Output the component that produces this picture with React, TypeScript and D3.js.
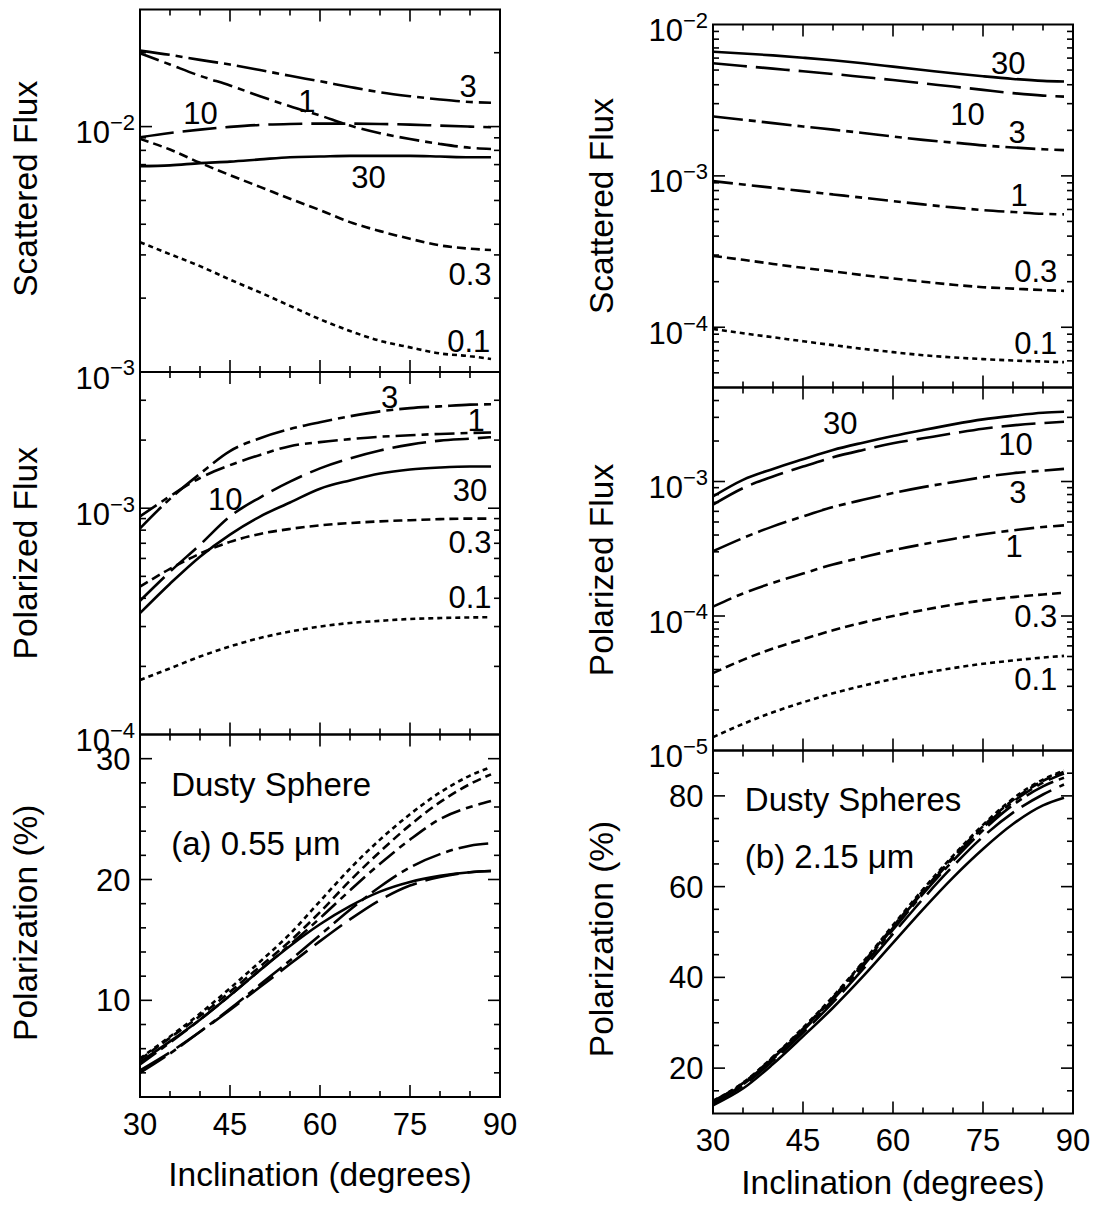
import React from 'react';
import * as d3 from 'd3';

// inclination grid (degrees) shared by every curve
const inclination = [30, 35, 40, 45, 50, 55, 60, 65, 70, 75, 80, 85, 88.5];
// optical depth of each curve, same order as the rows below
const depths = ['0.1', '0.3', '1', '3', '10', '30'];

// (a) 0.55 um
const scatteredA = [
  [3.38e-3, 3.02e-3, 2.70e-3, 2.38e-3, 2.11e-3, 1.86e-3, 1.64e-3, 1.47e-3, 1.34e-3, 1.26e-3, 1.19e-3, 1.16e-3, 1.13e-3],
  [8.91e-3, 8.06e-3, 7.12e-3, 6.34e-3, 5.68e-3, 5.08e-3, 4.57e-3, 4.08e-3, 3.75e-3, 3.49e-3, 3.28e-3, 3.18e-3, 3.14e-3],
  [1.99e-2, 1.79e-2, 1.61e-2, 1.47e-2, 1.33e-2, 1.21e-2, 1.11e-2, 1.01e-2, 9.40e-3, 8.90e-3, 8.50e-3, 8.20e-3, 8.10e-3],
  [2.04e-2, 1.96e-2, 1.87e-2, 1.79e-2, 1.70e-2, 1.61e-2, 1.53e-2, 1.45e-2, 1.38e-2, 1.33e-2, 1.29e-2, 1.26e-2, 1.25e-2],
  [9.05e-3, 9.42e-3, 9.72e-3, 9.97e-3, 1.016e-2, 1.025e-2, 1.028e-2, 1.028e-2, 1.025e-2, 1.019e-2, 1.009e-2, 1.0e-2, 9.94e-3],
  [6.90e-3, 6.95e-3, 7.10e-3, 7.20e-3, 7.35e-3, 7.50e-3, 7.55e-3, 7.60e-3, 7.60e-3, 7.60e-3, 7.55e-3, 7.50e-3, 7.50e-3],
];
const polarizedA = [
  [1.74e-4, 1.96e-4, 2.21e-4, 2.45e-4, 2.67e-4, 2.85e-4, 3.00e-4, 3.11e-4, 3.18e-4, 3.24e-4, 3.27e-4, 3.29e-4, 3.30e-4],
  [4.50e-4, 5.40e-4, 6.30e-4, 7.10e-4, 7.70e-4, 8.10e-4, 8.40e-4, 8.60e-4, 8.75e-4, 8.85e-4, 8.95e-4, 9.00e-4, 9.00e-4],
  [9.20e-4, 1.13e-3, 1.36e-3, 1.55e-3, 1.72e-3, 1.88e-3, 1.96e-3, 2.02e-3, 2.07e-3, 2.10e-3, 2.13e-3, 2.15e-3, 2.16e-3],
  [8.15e-4, 1.10e-3, 1.42e-3, 1.79e-3, 2.04e-3, 2.24e-3, 2.40e-3, 2.55e-3, 2.68e-3, 2.77e-3, 2.82e-3, 2.87e-3, 2.88e-3],
  [3.90e-4, 5.24e-4, 6.90e-4, 9.20e-4, 1.115e-3, 1.31e-3, 1.50e-3, 1.66e-3, 1.80e-3, 1.91e-3, 1.99e-3, 2.03e-3, 2.06e-3],
  [3.44e-4, 4.64e-4, 6.11e-4, 7.65e-4, 9.19e-4, 1.06e-3, 1.22e-3, 1.327e-3, 1.424e-3, 1.483e-3, 1.514e-3, 1.53e-3, 1.53e-3],
];
const polarizationA = [
  [5.2, 7.0, 8.9, 11.0, 13.2, 15.5, 18.2, 20.9, 23.3, 25.4, 27.2, 28.6, 29.3],
  [5.1, 6.9, 8.7, 10.7, 12.8, 14.9, 17.3, 19.9, 22.3, 24.5, 26.4, 27.9, 28.7],
  [4.7, 6.5, 8.4, 10.4, 12.5, 14.6, 16.8, 19.1, 21.3, 23.3, 25.0, 26.0, 26.5],
  [4.0, 5.6, 7.4, 9.3, 11.3, 13.3, 15.4, 17.5, 19.4, 21.0, 22.1, 22.8, 23.0],
  [4.2, 5.7, 7.4, 9.2, 11.1, 13.0, 14.9, 16.7, 18.3, 19.5, 20.2, 20.6, 20.7],
  [4.9, 6.6, 8.4, 10.4, 12.5, 14.5, 16.3, 17.8, 19.0, 19.8, 20.3, 20.6, 20.7],
];

// (b) 2.15 um
const scatteredB = [
  [9.75e-5, 9.13e-5, 8.59e-5, 8.09e-5, 7.62e-5, 7.20e-5, 6.85e-5, 6.54e-5, 6.32e-5, 6.16e-5, 6.03e-5, 5.94e-5, 5.88e-5],
  [2.96e-4, 2.79e-4, 2.62e-4, 2.47e-4, 2.34e-4, 2.21e-4, 2.10e-4, 2.00e-4, 1.91e-4, 1.84e-4, 1.80e-4, 1.76e-4, 1.74e-4],
  [9.23e-4, 8.77e-4, 8.34e-4, 7.93e-4, 7.54e-4, 7.17e-4, 6.81e-4, 6.48e-4, 6.19e-4, 5.94e-4, 5.77e-4, 5.62e-4, 5.57e-4],
  [2.47e-3, 2.35e-3, 2.23e-3, 2.12e-3, 2.02e-3, 1.92e-3, 1.82e-3, 1.73e-3, 1.66e-3, 1.59e-3, 1.54e-3, 1.50e-3, 1.48e-3],
  [5.54e-3, 5.32e-3, 5.11e-3, 4.91e-3, 4.71e-3, 4.50e-3, 4.30e-3, 4.09e-3, 3.89e-3, 3.70e-3, 3.52e-3, 3.39e-3, 3.34e-3],
  [6.61e-3, 6.44e-3, 6.25e-3, 6.03e-3, 5.80e-3, 5.54e-3, 5.27e-3, 5.01e-3, 4.76e-3, 4.55e-3, 4.37e-3, 4.24e-3, 4.20e-3],
];
const polarizedB = [
  [1.256e-5, 1.576e-5, 1.923e-5, 2.28e-5, 2.66e-5, 3.03e-5, 3.40e-5, 3.76e-5, 4.10e-5, 4.41e-5, 4.67e-5, 4.91e-5, 5.05e-5],
  [3.76e-5, 4.72e-5, 5.73e-5, 6.72e-5, 7.83e-5, 8.93e-5, 1.0e-4, 1.108e-4, 1.213e-4, 1.306e-4, 1.382e-4, 1.447e-4, 1.489e-4],
  [1.173e-4, 1.472e-4, 1.766e-4, 2.07e-4, 2.414e-4, 2.735e-4, 3.083e-4, 3.415e-4, 3.739e-4, 4.05e-4, 4.335e-4, 4.587e-4, 4.72e-4],
  [3.03e-4, 3.80e-4, 4.64e-4, 5.50e-4, 6.45e-4, 7.31e-4, 8.20e-4, 9.08e-4, 9.89e-4, 1.077e-3, 1.153e-3, 1.206e-3, 1.241e-3],
  [6.72e-4, 8.93e-4, 1.089e-3, 1.291e-3, 1.514e-3, 1.717e-3, 1.923e-3, 2.094e-3, 2.28e-3, 2.47e-3, 2.615e-3, 2.72e-3, 2.78e-3],
  [7.74e-4, 1.029e-3, 1.241e-3, 1.464e-3, 1.717e-3, 1.945e-3, 2.179e-3, 2.414e-3, 2.66e-3, 2.897e-3, 3.083e-3, 3.245e-3, 3.30e-3],
];
const polarizationB = [
  [12.8, 16.8, 22.5, 28.9, 35.8, 43.4, 51.5, 59.4, 66.8, 73.6, 79.4, 83.6, 85.6],
  [12.7, 16.7, 22.4, 28.7, 35.6, 43.2, 51.2, 59.1, 66.5, 73.3, 79.1, 83.3, 85.3],
  [12.6, 16.6, 22.2, 28.5, 35.4, 42.9, 50.9, 58.8, 66.2, 73.0, 78.7, 82.9, 84.9],
  [12.4, 16.4, 22.0, 28.3, 35.1, 42.5, 50.5, 58.4, 65.7, 72.4, 78.0, 82.1, 84.0],
  [12.2, 16.1, 21.6, 27.8, 34.5, 41.8, 49.6, 57.3, 64.5, 71.0, 76.3, 80.3, 82.5],
  [11.8, 15.5, 20.9, 27.0, 33.3, 40.2, 47.6, 55.0, 62.0, 68.3, 73.8, 77.9, 79.6],
];

const xTicksMajor = [30, 45, 60, 75, 90];
const xTicksMinor = [35, 40, 50, 55, 65, 70, 80, 85];

// curve label anchors, in data units: [text, inclination, value]
const labelsScatA: [string, number, number][] = [
  ['3', 84.7, 1.325e-2], ['1', 57.8, 1.15e-2], ['10', 40.1, 1.026e-2],
  ['30', 68.1, 5.61e-3], ['0.3', 85, 2.263e-3], ['0.1', 84.8, 1.21e-3],
];
const labelsPolA: [string, number, number][] = [
  ['3', 71.6, 2.783e-3], ['1', 86, 2.193e-3], ['10', 44.2, 9.87e-4],
  ['30', 85, 1.074e-3], ['0.3', 85, 6.35e-4], ['0.1', 85, 3.62e-4],
];
const labelsScatB: [string, number, number][] = [
  ['30', 79.2, 4.71e-3], ['10', 72.4, 2.175e-3], ['3', 80.7, 1.65e-3],
  ['1', 81, 6.31e-4], ['0.3', 83.8, 1.977e-4], ['0.1', 83.8, 6.67e-5],
];
const labelsPolB: [string, number, number][] = [
  ['30', 51.2, 2.272e-3], ['10', 80.4, 1.585e-3], ['3', 80.8, 6.98e-4],
  ['1', 80.2, 2.764e-4], ['0.3', 83.8, 8.31e-5], ['0.1', 83.8, 2.8e-5],
];
const notesA: [string, number, number][] = [['Dusty Sphere', 35.2, 26.9], ['(a) 0.55 \u03bcm', 35.2, 22.0]];
const notesB: [string, number, number][] = [['Dusty Spheres', 35.3, 76.7], ['(b) 2.15 \u03bcm', 35.3, 64.0]];

const FONT = '"Liberation Sans", Arial, Helvetica, sans-serif';
const dashes = ['5,4', '9,5', '20,6,7,6', '30,6,7,6', '34,9', ''];

type PanelProps = {
  left: number; top: number; width: number; height: number;
  log: boolean; domain: [number, number];
  yMajor?: number[]; yMinor?: number[];
  series: number[][];
  title: string; titleX: number; titleShift?: number;
  labels?: [string, number, number][];
  notes?: [string, number, number][];
  xLabels?: boolean; xTitleY?: number;
};

function Panel(p: PanelProps) {
  const bottom = p.top + p.height;
  const right = p.left + p.width;
  const x = d3.scaleLinear().domain([30, 90]).range([p.left, right]);
  const y: any = p.log
    ? d3.scaleLog().domain(p.domain).range([bottom, p.top])
    : d3.scaleLinear().domain(p.domain).range([bottom, p.top]);

  let major: number[] = p.yMajor || [];
  let minor: number[] = p.yMinor || [];
  if (p.log) {
    major = []; minor = [];
    const [lo, hi] = p.domain;
    for (let e = Math.floor(Math.log10(lo)); e <= Math.ceil(Math.log10(hi)); e++) {
      for (let k = 1; k <= 9; k++) {
        const v = k * Math.pow(10, e);
        if (v < lo * 0.999 || v > hi * 1.001) continue;
        if (k === 1) major.push(v); else minor.push(v);
      }
    }
  }

  const line = d3.line<number>()
    .x((_, i) => x(inclination[i]))
    .y(d => y(d))
    .curve(d3.curveMonotoneX);

  const tk = (len: number) => len;

  return (
    <g>
      {p.series.map((s, i) => (
        <path key={depths[i]} d={line(s) || ''} fill="none" stroke="#000" strokeWidth={2.6}
          strokeDasharray={dashes[i] || undefined} />
      ))}
      <rect x={p.left} y={p.top} width={p.width} height={p.height} fill="none" stroke="#000" strokeWidth={2} />
      {/* x ticks, inward on top and bottom */}
      {[...xTicksMajor.map(v => [v, tk(12)]), ...xTicksMinor.map(v => [v, tk(6)])]
        .filter(([v]) => v > 30 && v < 90)
        .map(([v, len]) => (
          <g key={'x' + v}>
            <line x1={x(v)} x2={x(v)} y1={bottom} y2={bottom - len} stroke="#000" strokeWidth={1.6} />
            <line x1={x(v)} x2={x(v)} y1={p.top} y2={p.top + len} stroke="#000" strokeWidth={1.6} />
          </g>
        ))}
      {/* y ticks, inward on left and right */}
      {[...major.map(v => [v, 12]), ...minor.map(v => [v, 6])]
        .filter(([v]) => y(v) > p.top + 0.5 && y(v) < bottom - 0.5)
        .map(([v, len]) => (
          <g key={'y' + v}>
            <line x1={p.left} x2={p.left + len} y1={y(v)} y2={y(v)} stroke="#000" strokeWidth={1.6} />
            <line x1={right} x2={right - len} y1={y(v)} y2={y(v)} stroke="#000" strokeWidth={1.6} />
          </g>
        ))}
      {/* y tick labels */}
      {major.map(v => p.log ? (
        <text key={'l' + v} x={p.left - 5} y={y(v) + 16.6} textAnchor="end" fontSize={31}>
          10<tspan dy={-13.3} fontSize={22}>{'\u2212' + Math.round(-Math.log10(v))}</tspan>
        </text>
      ) : (
        <text key={'l' + v} x={p.left - 9.5} y={y(v) + 11} textAnchor="end" fontSize={31}>{v}</text>
      ))}
      {p.xLabels && xTicksMajor.map(v => (
        <text key={'xl' + v} x={x(v)} y={bottom + 37.5} textAnchor="middle" fontSize={31}>{v}</text>
      ))}
      {p.xLabels && (
        <text x={(p.left + right) / 2} y={p.xTitleY} textAnchor="middle" fontSize={33.5}>Inclination (degrees)</text>
      )}
      <text transform={`translate(${p.titleX},${(p.top + bottom) / 2 + (p.titleShift || 0)}) rotate(-90)`}
        textAnchor="middle" fontSize={33.5}>{p.title}</text>
      {(p.labels || []).map(([t, d, v]) => (
        <text key={'c' + t} x={x(d)} y={y(v)} textAnchor="middle" fontSize={31}>{t}</text>
      ))}
      {(p.notes || []).map(([t, d, v]) => (
        <text key={'n' + t} x={x(d)} y={y(v)} fontSize={33}>{t}</text>
      ))}
    </g>
  );
}

export default function App() {
  const w = 360;
  const hA = 362.5;
  const hB = 363;
  const lx = 140;
  const rx = 713;
  const ta = 9.5;
  const tb = 24.5;
  return (
    <svg width={1100} height={1215} viewBox="0 0 1100 1215"
      style={{ position: 'absolute', left: 0, top: 0, background: '#fff' }}
      fontFamily={FONT} fill="#000">
      <rect x={0} y={0} width={1100} height={1215} fill="#fff" />
      <Panel left={lx} top={ta} width={w} height={hA} log domain={[1e-3, 3e-2]}
        series={scatteredA} title="Scattered Flux" titleX={36.5} titleShift={-2} labels={labelsScatA} />
      <Panel left={lx} top={ta + hA} width={w} height={hA} log domain={[1e-4, 4e-3]}
        series={polarizedA} title="Polarized Flux" titleX={36.5} labels={labelsPolA} />
      <Panel left={lx} top={ta + 2 * hA} width={w} height={hA} log={false} domain={[2, 32]}
        yMajor={[10, 20, 30]} yMinor={d3.range(4, 32, 2).filter(v => v % 10 !== 0)}
        series={polarizationA} title="Polarization (%)" titleX={36.5} titleShift={7}
        notes={notesA} xLabels xTitleY={1186} />
      <Panel left={rx} top={tb} width={w} height={hB} log domain={[4e-5, 1e-2]}
        series={scatteredB} title="Scattered Flux" titleX={612.5} labels={labelsScatB} />
      <Panel left={rx} top={tb + hB} width={w} height={hB} log domain={[1e-5, 5e-3]}
        series={polarizedB} title="Polarized Flux" titleX={612.5} titleShift={1} labels={labelsPolB} />
      <Panel left={rx} top={tb + 2 * hB} width={w} height={hB} log={false} domain={[10, 90]}
        yMajor={[20, 40, 60, 80]} yMinor={d3.range(15, 90, 5).filter(v => v % 20 !== 0)}
        series={polarizationB} title="Polarization (%)" titleX={612.5} titleShift={7}
        notes={notesB} xLabels xTitleY={1194} />
    </svg>
  );
}
